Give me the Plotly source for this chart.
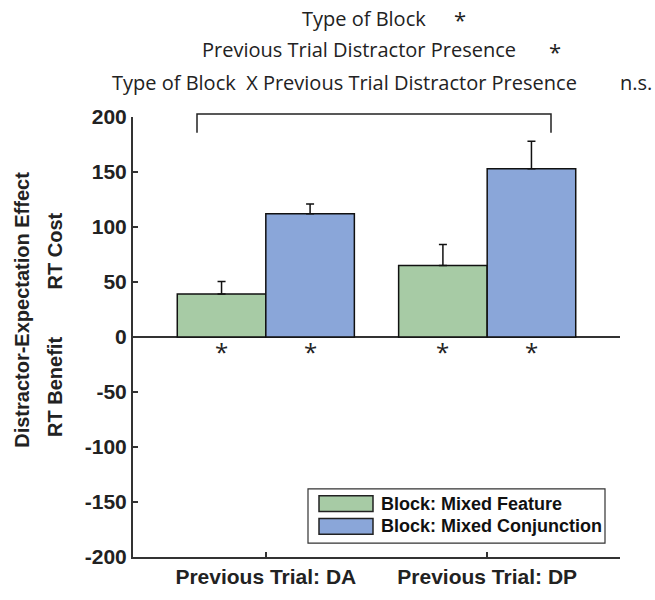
import plotly.graph_objects as go

categories = ["Previous Trial: DA", "Previous Trial: DP"]
series_names = ["Block: Mixed Feature", "Block: Mixed Conjunction"]
feature_vals = [39, 65]
feature_err = [11.5, 19]
conj_vals = [112, 153]
conj_err = [9, 25]
y_ticks = [-200, -150, -100, -50, 0, 50, 100, 150, 200]
y_tick_labels = ["-200", "-150", "-100", "-50", "0", "50", "100", "150", "200"]
sig_lines = [
    ("Type of Block", "*"),
    ("Previous Trial Distractor Presence", "*"),
    ("Type of Block  X Previous Trial Distractor Presence", "n.s."),
]

W, H = 655, 600
L, R, T, B = 133, 35, 117, 38
PW, PH = W - L - R, H - T - B


def px(x):
    return (x - L) / PW


def py(y):
    return (H - B - y) / PH


colors = ["#a7cba5", "#8aa6d9"]
fig = go.Figure()
for name, vals, errs, col in [
    (series_names[0], feature_vals, feature_err, colors[0]),
    (series_names[1], conj_vals, conj_err, colors[1]),
]:
    fig.add_trace(go.Bar(
        x=categories, y=vals, name=name, showlegend=False,
        marker=dict(color=col, line=dict(color="#111111", width=1.5)),
        error_y=dict(type="data", array=errs, arrayminus=[0] * len(errs),
                     symmetric=False, color="#111111", thickness=1.5, width=4),
    ))

ann = []
shapes = []
# significance stars below each bar
for i in range(len(categories)):
    for off in (-0.2, 0.2):
        ann.append(dict(x=i + off, y=-13, xref="x", yref="y", text="*",
                        showarrow=False, font=dict(family="Open Sans", size=24, color="#222"),
                        yanchor="middle"))

# top significance text
title_font = dict(family="Open Sans", size=20, color="#222")
line_pos = [(300, 17, 460), (200, 49, 555), (110, 82, 618)]
for (txt, mark), (x0, y0, xm) in zip(sig_lines, line_pos):
    ann.append(dict(x=px(x0), y=py(y0), xref="paper", yref="paper", text=txt,
                    showarrow=False, xanchor="left", yanchor="middle", font=title_font))
    if mark == "*":
        ann.append(dict(x=px(xm), y=py(y0 + 1), xref="paper", yref="paper", text=mark,
                        showarrow=False, xanchor="center", yanchor="middle",
                        font=dict(family="Open Sans", size=22, color="#222")))
    else:
        ann.append(dict(x=px(xm), y=py(y0), xref="paper", yref="paper", text=mark,
                        showarrow=False, xanchor="left", yanchor="middle", font=title_font))

# y-axis titles
lab_font = dict(family="Liberation Sans, Arial", size=20, color="#222")
ann.append(dict(x=px(22), y=py(312), xref="paper", yref="paper",
                text="<b>Distractor-Expectation Effect</b>", textangle=-90,
                showarrow=False, xanchor="center", yanchor="middle", font=lab_font))
ann.append(dict(x=px(55), y=py(253), xref="paper", yref="paper",
                text="<b>RT Cost</b>", textangle=-90,
                showarrow=False, xanchor="center", yanchor="middle", font=lab_font))
ann.append(dict(x=px(55), y=py(390), xref="paper", yref="paper",
                text="<b>RT Benefit</b>", textangle=-90,
                showarrow=False, xanchor="center", yanchor="middle", font=lab_font))

# bracket above the bars
bx0, bx1, by0, by1 = 197, 551, 133, 114
shapes.append(dict(type="path", xref="paper", yref="paper",
                   path=f"M {px(bx0)} {py(by0)} L {px(bx0)} {py(by1)} L {px(bx1)} {py(by1)} L {px(bx1)} {py(by0)}",
                   line=dict(color="#222", width=1.5)))

# legend box (drawn to match the reference's wide swatches)
lg_x0, lg_x1, lg_y0, lg_y1 = 308, 605, 493, 548
shapes.append(dict(type="rect", xref="paper", yref="paper",
                   x0=px(lg_x0), x1=px(lg_x1), y0=py(lg_y1), y1=py(lg_y0),
                   line=dict(color="#333", width=1.2), fillcolor="white", layer="above"))
for k, (nm, col) in enumerate(zip(series_names, colors)):
    yc = 508 + 23 * k
    shapes.append(dict(type="rect", xref="paper", yref="paper",
                       x0=px(319), x1=px(373), y0=py(yc + 8), y1=py(yc - 8),
                       line=dict(color="#222", width=1.5), fillcolor=col, layer="above"))
    ann.append(dict(x=px(379), y=py(yc), xref="paper", yref="paper", text=f"<b>{nm}</b>",
                    showarrow=False, xanchor="left", yanchor="middle",
                    font=dict(family="Liberation Sans, Arial", size=18, color="#111")))

fig.update_layout(
    width=W, height=H,
    margin=dict(l=L, r=R, t=T, b=B, pad=0),
    paper_bgcolor="white", plot_bgcolor="white",
    barmode="group", bargap=0.2, bargroupgap=0,
    showlegend=False,
    annotations=ann, shapes=shapes,
    font=dict(family="Liberation Sans, Arial", color="#222"),
)
fig.update_xaxes(range=[-0.6, 1.6], showline=True, linecolor="#333", linewidth=2,
                 ticks="inside", ticklen=5, tickcolor="#333", tickwidth=1.5,
                 tickfont=dict(family="Liberation Sans, Arial", size=21, color="#222", weight="bold"),
                 showgrid=False, zeroline=False)
fig.update_yaxes(range=[-200, 200], tickvals=y_ticks, ticktext=y_tick_labels,
                 showline=True, linecolor="#333", linewidth=2,
                 ticks="inside", ticklen=5, tickcolor="#333", tickwidth=1.5,
                 tickfont=dict(family="Liberation Sans, Arial", size=21, color="#222", weight="bold"),
                 showgrid=False, zeroline=True, zerolinecolor="#333", zerolinewidth=2)

fig.write_html("out.html")
